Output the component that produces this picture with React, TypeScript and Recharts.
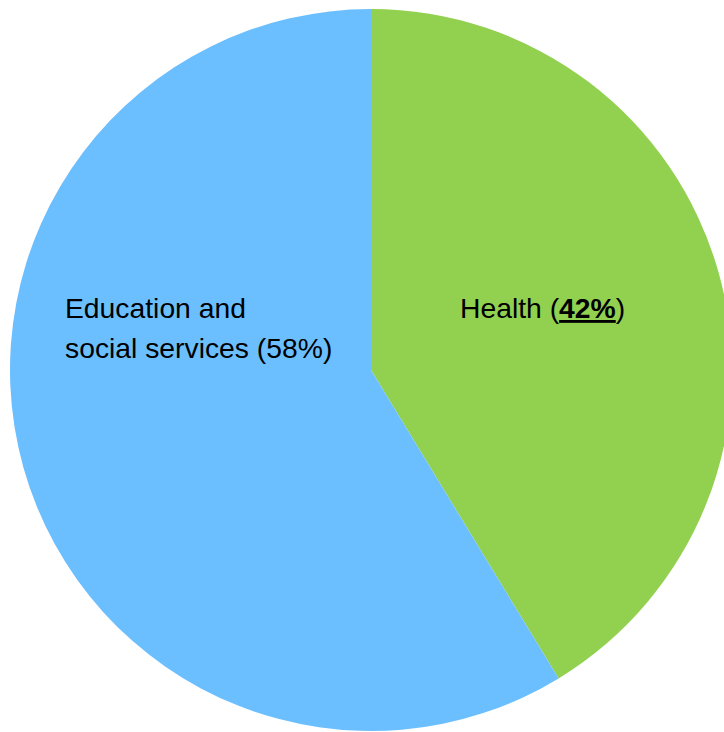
import React from "react";
import { Cell, Pie, PieChart } from "recharts";

// 보건 vs 교육·사회서비스 비중 (그림에서 각도 읽음)
const sectors = ["Health", "Education and social services"];
const shares = [41.3, 58.7];
const shareLabels = ["42%", "58%"];
const colors = ["#92D050", "#6CBFFF"];

const data = sectors.map((name, i) => ({ name, value: shares[i], pct: shareLabels[i] }));

const font = "'Liberation Sans', Arial, sans-serif";

// 라벨 위치는 엑셀처럼 조각 안쪽 고정 오프셋
const renderLabel = (props: any) => {
  const { cx, cy, index } = props;
  const d = data[index];
  if (index === 0) {
    return (
      <text x={cx + 89} y={cy - 52} fontFamily={font} fontSize={28.3} fill="#000">
        Health (
        <tspan fontWeight="bold" textDecoration="underline">
          {d.pct}
        </tspan>
        )
      </text>
    );
  }
  return (
    <text x={cx - 306} y={cy - 52} fontFamily={font} fontSize={28.3} fill="#000">
      <tspan x={cx - 306}>Education and</tspan>
      <tspan x={cx - 306} dy={40}>
        social services ({d.pct})
      </tspan>
    </text>
  );
};

export default function App() {
  return (
    <div style={{ position: "absolute", left: 0, top: 0, width: 724, height: 732, overflow: "hidden", background: "#fff" }}>
      <PieChart width={724} height={732} margin={{ top: 0, right: 0, bottom: 0, left: 0 }}>
        <Pie
          data={data}
          dataKey="value"
          nameKey="name"
          cx={371}
          cy={370}
          outerRadius={361}
          startAngle={90}
          endAngle={-270}
          stroke="none"
          label={renderLabel}
          labelLine={false}
          isAnimationActive={false}
        >
          {data.map((d, i) => (
            <Cell key={d.name} fill={colors[i]} />
          ))}
        </Pie>
      </PieChart>
    </div>
  );
}
